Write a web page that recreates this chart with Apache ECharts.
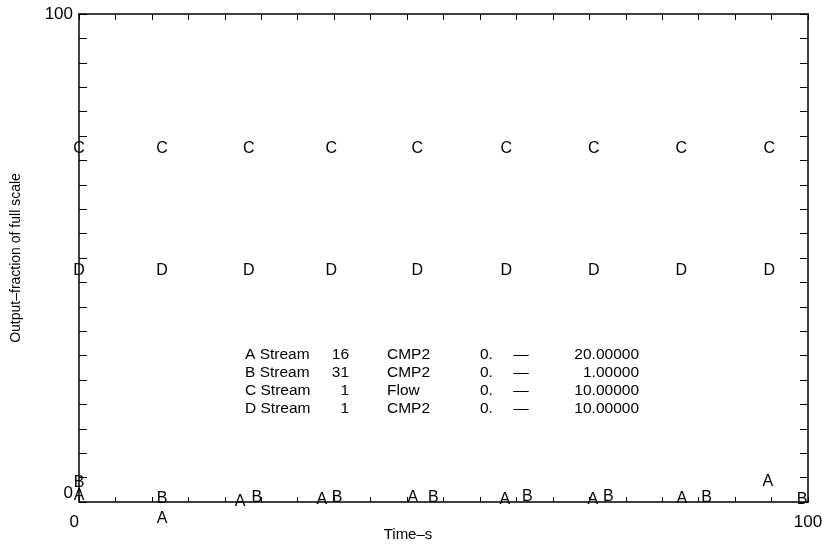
<!DOCTYPE html>
<html>
<head>
<meta charset="utf-8">
<script src="https://cdn.jsdelivr.net/npm/echarts@6/dist/echarts.min.js"></script>
<style>
  html, body { margin: 0; padding: 0; background: #fff; }
  #chart { width: 822px; height: 544px; }
</style>
</head>
<body>
<div id="chart"></div>
<script>
// plotted points: [time s, output %]
const seriesA = [[0, 1.4], [11.4, -3.3], [22.1, 0], [33.3, 0.4], [45.8, 1], [58.4, 0.4], [70.5, 0.4], [82.7, 0.8], [94.5, 4.1]]
const seriesB = [[0, 3.9], [11.4, 0.8], [24.4, 1], [35.4, 1], [48.6, 1], [61.5, 1.2], [72.6, 1.2], [86.1, 1], [99.2, 0.4]]
const timesCD = [0, 11.4, 23.3, 34.6, 46.4, 58.6, 70.6, 82.6, 94.7]
const valuesC = [72.5, 72.5, 72.5, 72.5, 72.5, 72.5, 72.5, 72.5, 72.5]
const valuesD = [47.5, 47.5, 47.5, 47.5, 47.5, 47.5, 47.5, 47.5, 47.5]

// key block
const keyNames = ['A Stream', 'B Stream', 'C Stream', 'D Stream']
const keyStreams = ['16', '31', '1', '1']
const keyVars = ['CMP2', 'CMP2', 'Flow', 'CMP2']
const keyLow = ['0.', '0.', '0.', '0.']
const keyHigh = ['20.00000', '1.00000', '10.00000', '10.00000']

const xTitle = 'Time–s'
const yTitle = 'Output–fraction of full scale'

const axisTicks = { min: 0, max: 100, interval: 5 }
const font = 'Liberation Sans, Arial, sans-serif'
const ink = '#000'

const chart = echarts.init(document.getElementById('chart'))

function letterSeries(name, data) {
  return {
    type: 'scatter',
    name,
    data,
    symbol: 'circle',
    symbolSize: 1,
    clip: false,
    itemStyle: { color: 'rgba(0,0,0,0)', opacity: 1 },
    label: {
      show: true,
      position: 'inside',
      formatter: name,
      fontSize: 16,
      fontFamily: font,
      color: ink,
      opacity: 1,
      textBorderWidth: 0,
    },
    emphasis: { disabled: true },
  }
}

const endLabel = (v) => (v === 0 || v === 100 ? String(v) : '')

const keyText = []
const rowY = [355, 373, 391, 409]
keyNames.forEach((n, i) => {
  const y = rowY[i]
  const st = { fontSize: 15.5, fontFamily: font, fill: ink, textVerticalAlign: 'middle' }
  keyText.push({ type: 'text', style: { ...st, text: n, x: 245, y } })
  keyText.push({ type: 'text', style: { ...st, text: keyStreams[i], x: 349, y, textAlign: 'right' } })
  keyText.push({ type: 'text', style: { ...st, text: keyVars[i], x: 387, y } })
  keyText.push({ type: 'text', style: { ...st, text: keyLow[i], x: 480, y } })
  keyText.push({ type: 'text', style: { ...st, text: '—', x: 521, y, textAlign: 'center' } })
  keyText.push({ type: 'text', style: { ...st, text: keyHigh[i], x: 639, y, textAlign: 'right' } })
})
keyText.push({
  type: 'text',
  style: { text: xTitle, x: 408, y: 535, textAlign: 'center', textVerticalAlign: 'middle', fontSize: 15, fontFamily: font, fill: ink },
})

const lineStyle = { color: ink, width: 1.5 }

const option = {
  animation: false,
  backgroundColor: '#fff',
  grid: { left: 79, right: 14, top: 14, bottom: 42, outerBoundsMode: 'none', containLabel: false },
  xAxis: [
    {
      type: 'value', position: 'bottom', ...axisTicks,
      axisLine: { onZero: false, lineStyle },
      axisTick: { inside: true, length: 5, lineStyle: { color: ink } },
      axisLabel: { formatter: endLabel, fontSize: 17, fontFamily: font, color: ink, margin: 12, alignMinLabel: 'right' },
      splitLine: { show: false },
    },
    {
      type: 'value', position: 'top', ...axisTicks,
      axisLine: { onZero: false, lineStyle },
      axisTick: { inside: true, length: 6, lineStyle: { color: ink } },
      axisLabel: { show: false },
      splitLine: { show: false },
    },
  ],
  yAxis: [
    {
      type: 'value', position: 'left', ...axisTicks,
      name: yTitle, nameLocation: 'middle', nameGap: 56,
      nameTextStyle: { fontSize: 14, fontFamily: font, color: ink },
      axisLine: { show: true, onZero: false, lineStyle },
      axisTick: { show: true, inside: true, length: 8, lineStyle: { color: ink } },
      axisLabel: { formatter: endLabel, fontSize: 17, fontFamily: font, color: ink, margin: 6, verticalAlignMinLabel: 'bottom' },
      splitLine: { show: false },
    },
    {
      type: 'value', position: 'right', ...axisTicks,
      axisLine: { show: true, onZero: false, lineStyle },
      axisTick: { show: true, inside: true, length: 8, lineStyle: { color: ink } },
      axisLabel: { show: false },
      splitLine: { show: false },
    },
  ],
  graphic: keyText,
  series: [
    letterSeries('A', seriesA),
    letterSeries('B', seriesB),
    letterSeries('C', timesCD.map((t, i) => [t, valuesC[i]])),
    letterSeries('D', timesCD.map((t, i) => [t, valuesD[i]])),
  ],
}

chart.setOption(option)
window.addEventListener('resize', () => chart.resize())
</script>
</body>
</html>
